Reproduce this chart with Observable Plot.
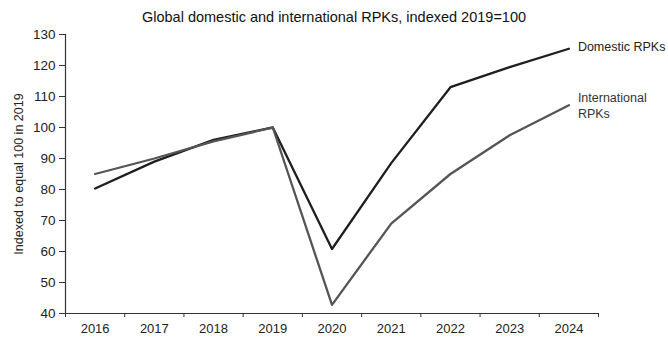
<!DOCTYPE html>
<html>
<head>
<meta charset="utf-8">
<script src="https://cdn.jsdelivr.net/npm/d3@7"></script>
<script src="https://cdn.jsdelivr.net/npm/@observablehq/plot@0.6"></script>
<style>
  body { margin: 0; background: #fff; font-family: "Liberation Sans", Arial, sans-serif; }
  #title { width: 668px; height: 26px; box-sizing: border-box; padding-top: 9px; line-height: 16px; font-size: 14.5px; text-align: center; color: #111; }
</style>
</head>
<body>
<div id="title">Global domestic and international RPKs, indexed 2019=100</div>
<div id="chart"></div>
<script>
const years = [2016, 2017, 2018, 2019, 2020, 2021, 2022, 2023, 2024];
const domestic = [80.3, 89, 96, 100, 60.8, 88.5, 113, 119.5, 125.4];
const international = [85, 90, 95.5, 100, 42.8, 69, 85, 97.5, 107.2];
const yTicks = [40, 50, 60, 70, 80, 90, 100, 110, 120, 130];
const seriesNames = ["Domestic RPKs", "International RPKs"];
const endLabels = ["Domestic RPKs", "International\nRPKs"];

const rows = [];
years.forEach((y, i) => {
  rows.push({year: y, value: domestic[i], series: seriesNames[0]});
  rows.push({year: y, value: international[i], series: seriesNames[1]});
});
const last = years.length - 1;
const domLabel = [{year: years[last], value: domestic[last], label: endLabels[0]}];
const intLabel = [{year: years[last], value: international[last], label: endLabels[1]}];
const boundaries = years.map(y => y - 0.5).concat([years[last] + 0.5]);

const chart = Plot.plot({
  width: 668,
  height: 312,
  marginTop: 8,
  marginBottom: 25,
  marginLeft: 65,
  marginRight: 70,
  style: {fontFamily: "Liberation Sans, Arial, sans-serif", fontSize: "13px", color: "#222", background: "#fff"},
  x: {type: "linear", domain: [years[0] - 0.5, years[last] + 0.5]},
  y: {domain: [40, 130]},
  color: {domain: seriesNames, range: ["#1e1e1e", "#555555"]},
  marks: [
    Plot.axisY({ticks: yTicks, tickSize: 6, tickPadding: 4, label: null, fontSize: 13.5, stroke: "#333"}),
    Plot.axisX({ticks: years, tickSize: 0, tickPadding: 10, tickFormat: d => String(d), label: null, fontSize: 13}),
    Plot.axisX({ticks: boundaries, tickSize: 4, tickFormat: () => "", label: null, stroke: "#333"}),
    Plot.ruleX([years[0] - 0.5], {stroke: "#333", strokeWidth: 1.2}),
    Plot.ruleY([40], {stroke: "#333", strokeWidth: 1.2}),
    Plot.line(rows, {x: "year", y: "value", z: "series", stroke: "series", strokeWidth: 2.3}),
    Plot.text(domLabel, {x: "year", y: "value", text: "label", textAnchor: "start", dx: 9, dy: -2, fontSize: 12.5, fill: "#222"}),
    Plot.text(intLabel, {x: "year", y: "value", text: "label", textAnchor: "start", dx: 9, dy: -14, fontSize: 12.5, fill: "#333", lineHeight: 1.26, lineAnchor: "top"}),
    Plot.text(["Indexed to equal 100 in 2019"], {frameAnchor: "left", rotate: -90, dx: -47, textAnchor: "middle", fontSize: 12.5, fill: "#222"})
  ]
});
document.getElementById("chart").appendChild(chart);
</script>
</body>
</html>
